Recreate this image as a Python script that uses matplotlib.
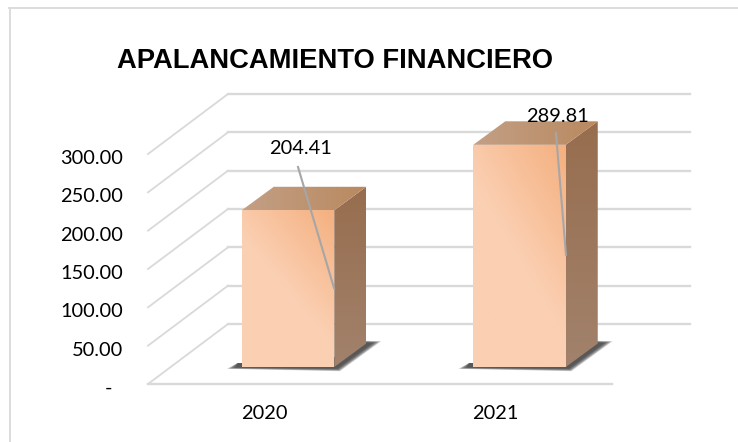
import numpy as np
import matplotlib
matplotlib.use("Agg")
import matplotlib.pyplot as plt
from matplotlib.patches import Polygon
from matplotlib.lines import Line2D
from matplotlib.colors import LinearSegmentedColormap
from matplotlib.transforms import ScaledTranslation

title = "APALANCAMIENTO FINANCIERO"
categories = ["2020", "2021"]
values = [204.41, 289.81]
value_labels = ["204.41", "289.81"]
yticks = [0, 50, 100, 150, 200, 250, 300]
yticklabels = ["-  ", "50.00", "100.00", "150.00", "200.00", "250.00", "300.00"]

W, H = 738, 442
fig = plt.figure(figsize=(W / 100, H / 100), dpi=100, facecolor="white")
# Axes: the front plane of the oblique 3D box, in pixel x and value y
L, R, B, T = 148, 612, 384, 154
ax = fig.add_axes([L / W, 1 - B / H, (R - L) / W, (B - T) / H])
ax.set_xlim(L, R)
ax.set_ylim(0, 300)
S = (B - T) / 300  # px per value unit
for s in ax.spines.values():
    s.set_visible(False)
ax.patch.set_visible(False)

DX, DY = 80, 60 / S  # floor depth
GRID = "#d9d9d9"
for v in yticks:
    ax.plot([L, L + DX], [v, v + DY], color=GRID, lw=1.3, clip_on=False, zorder=1)
    ax.plot([L + DX, R + 78], [v + DY, v + DY], color=GRID, lw=1.7, clip_on=False, zorder=1)
ax.plot([L, R], [0, 0], color=GRID, lw=1.7, clip_on=False, zorder=1)

centers = [288, 519.5]
BW = 92.5
BASE = 17 / S
dx, dy = 32, 23.5 / S


def grad(poly, box, colors, angle, z):
    x0, x1, y0, y1 = box
    n = 60
    xx, yy = np.meshgrid(np.linspace(0, 1, n), np.linspace(0, 1, n))
    a = np.deg2rad(angle)
    g = xx * np.cos(a) + yy * np.sin(a)
    g = (g - g.min()) / (g.max() - g.min())
    cm = LinearSegmentedColormap.from_list("g", colors)
    im = ax.imshow(g, extent=[x0, x1, y0, y1], origin="lower", cmap=cm, aspect="auto",
                   zorder=z, interpolation="bilinear")
    p = Polygon(poly, closed=True, transform=ax.transData, fc="none", ec="none", clip_on=False)
    ax.add_patch(p)
    im.set_clip_box(fig.bbox)
    im.set_clip_path(p)


for c, v in zip(centers, values):
    x0, x1 = c - BW / 2, c + BW / 2
    b, t = BASE, BASE + v
    # soft shadow on the floor, built from growing translucent layers
    for k in np.linspace(1, 0, 10):
        e = 9 * k
        f = e / S
        ax.add_patch(Polygon([(x0 - 6 - e, b - 0.5 / S - f * 0.15), (x1 + 3 + e * 0.3, b - 1.5 / S - f * 0.3),
                              (x1 + dx + 6 + e, b + dy + 0.5 / S + f * 0.2), (x1 + dx - 4, b + dy + 1 / S + f * 0.2),
                              (x1 - 10, b + 4 / S), (x0 - 4, b + 4 / S)],
                             closed=True, fc="#383838", ec="none", alpha=0.16, zorder=2, clip_on=False))
    # faces
    grad([(x1, b), (x1 + dx, b + dy), (x1 + dx, t + dy), (x1, t)], (x1, x1 + dx, b, t + dy),
         ["#a2826c", "#976d4e"], 90, 3)
    grad([(x0, t), (x1, t), (x1 + dx, t + dy), (x0 + dx, t + dy)], (x0, x1 + dx, t, t + dy),
         ["#c39f85", "#b98a60"], 0, 3)
    grad([(x0, b), (x1, b), (x1, t), (x0, t)], (x0, x1, b, t),
         ["#fbcfb2", "#fbcfb2", "#f4b080"], 55, 4)

# data labels and leader lines
label_pos = [(300, 149), (557.5, 116)]
leader_start = [(298, 167), (556, 133)]
leader_end = [(334, 288), (566, 255)]
to_v = lambda py: (B - py) / S
for txt, lp, ls, le in zip(value_labels, label_pos, leader_start, leader_end):
    ax.plot([ls[0], le[0]], [to_v(ls[1]), to_v(le[1])], color="#a6a6a6", lw=1.5, zorder=5, clip_on=False)
    ax.text(lp[0], to_v(lp[1]), txt, ha="center", va="center", fontsize=14.4,
            family="Lato", color="black", zorder=6, clip_on=False)

ax.set_xlim(L, R)
ax.set_ylim(0, 300)
ax.set_aspect("auto")
ax.set_yticks(yticks, yticklabels, family="Lato", fontsize=14.4)
ax.set_xticks([264.5, 495], categories, family="Lato", fontsize=14.4)
ax.tick_params(axis="y", length=0, pad=25 * 0.72)
ax.tick_params(axis="x", length=0, pad=21 * 0.72)
shift = ScaledTranslation(0, -3 / 100, fig.dpi_scale_trans)
for lab in ax.get_yticklabels():
    lab.set_transform(lab.get_transform() + shift)

fig.text(335 / W, 1 - 61 / H, title, family="Liberation Sans", fontweight="bold",
         fontsize=19.7, ha="center", va="center", color="black")

# chart frame
fig.add_artist(Line2D([9.5 / W, 9.5 / W], [0, 1 - 8 / H], color="#dcdcdc", lw=1.4))
fig.add_artist(Line2D([9 / W, 1], [1 - 8 / H, 1 - 8 / H], color="#dcdcdc", lw=1.4))

fig.savefig("out.png", dpi=100)
